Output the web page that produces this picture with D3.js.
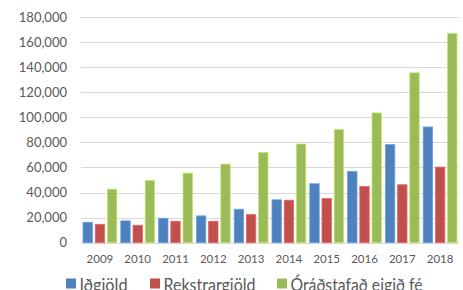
<!DOCTYPE html>
<html>
<head>
<meta charset="utf-8">
<script src="https://cdn.jsdelivr.net/npm/d3@7"></script>
<style>
  body { margin: 0; background: #fff; }
  text { font-family: Lato, "Open Sans", sans-serif; fill: #595959; }
</style>
</head>
<body>
<script>
  // chart data
  var years = ['2009','2010','2011','2012','2013','2014','2015','2016','2017','2018'];
  var idgjold = [16300, 17400, 19500, 21400, 26700, 34200, 47000, 56800, 78200, 92300];
  var rekstrargjold = [14700, 13900, 17100, 17100, 22400, 33900, 35200, 44800, 46200, 60300];
  var eigidFe = [42700, 49600, 55500, 62700, 72000, 78700, 90200, 103500, 135500, 167000];
  var seriesNames = ['Iðgjöld', 'Rekstrargjöld', 'Óráðstafað eigið fé'];
  var colors = ['#4F81BD', '#C0504D', '#9BBB59'];
  var yTicks = [0, 20000, 40000, 60000, 80000, 100000, 120000, 140000, 160000, 180000];

  (function () {
    var W = 463, H = 290;
    var plotLeft = 81, plotRight = 459, plotTop = 17, plotBottom = 242.7;

    var svg = d3.select('body').append('svg')
        .attr('width', W)
        .attr('height', H);

    var x0 = d3.scaleBand().domain(years).range([plotLeft, plotRight]);
    var y = d3.scaleLinear().domain([0, 180000]).range([plotBottom, plotTop]);

    // gridlines
    svg.append('g')
      .selectAll('line')
      .data(yTicks)
      .join('line')
        .attr('x1', plotLeft).attr('x2', plotRight)
        .attr('y1', d => Math.round(y(d)) + 0.5)
        .attr('y2', d => Math.round(y(d)) + 0.5)
        .attr('stroke', '#D9D9D9')
        .attr('stroke-width', 1);

    // y labels
    var fmt = d3.format(',');
    svg.append('g')
      .selectAll('text')
      .data(yTicks)
      .join('text')
        .attr('x', 67)
        .attr('y', d => y(d))
        .attr('dy', '0.35em')
        .attr('text-anchor', 'end')
        .style('font-size', '13px')
        .text(d => fmt(d));

    // x labels
    svg.append('g')
      .selectAll('text')
      .data(years)
      .join('text')
        .attr('x', d => x0(d) + x0.bandwidth() / 2)
        .attr('y', 263)
        .attr('text-anchor', 'middle')
        .style('font-size', '11.5px')
        .text(d => d);

    // bars
    var series = [idgjold, rekstrargjold, eigidFe];
    var barW = 9.4, step = 12.2;
    var groupOff = (x0.bandwidth() - (2 * step + barW)) / 2;

    series.forEach(function(vals, si) {
      svg.append('g')
        .selectAll('rect')
        .data(vals)
        .join('rect')
          .attr('x', (d, i) => x0(years[i]) + groupOff + si * step)
          .attr('y', d => y(d))
          .attr('width', barW)
          .attr('height', d => plotBottom - y(d))
          .attr('fill', colors[si])
          .attr('stroke', d3.color(colors[si]).brighter(0.6))
          .attr('stroke-width', 0.8);
    });

    // legend (Calibri is narrow: squeeze the text to the original widths)
    var legendX = [66, 150, 277];
    var legendW = [48, 92, 132];
    var lg = svg.append('g');
    seriesNames.forEach(function(name, i) {
      lg.append('rect')
        .attr('x', legendX[i])
        .attr('y', 278.5)
        .attr('width', 10)
        .attr('height', 10)
        .attr('fill', colors[i]);
      lg.append('text')
        .attr('x', legendX[i] + 13.5)
        .attr('y', 291)
        .attr('textLength', legendW[i])
        .attr('lengthAdjust', 'spacingAndGlyphs')
        .style('font-size', '16.5px')
        .text(name);
    });
  })();
</script>
</body>
</html>
